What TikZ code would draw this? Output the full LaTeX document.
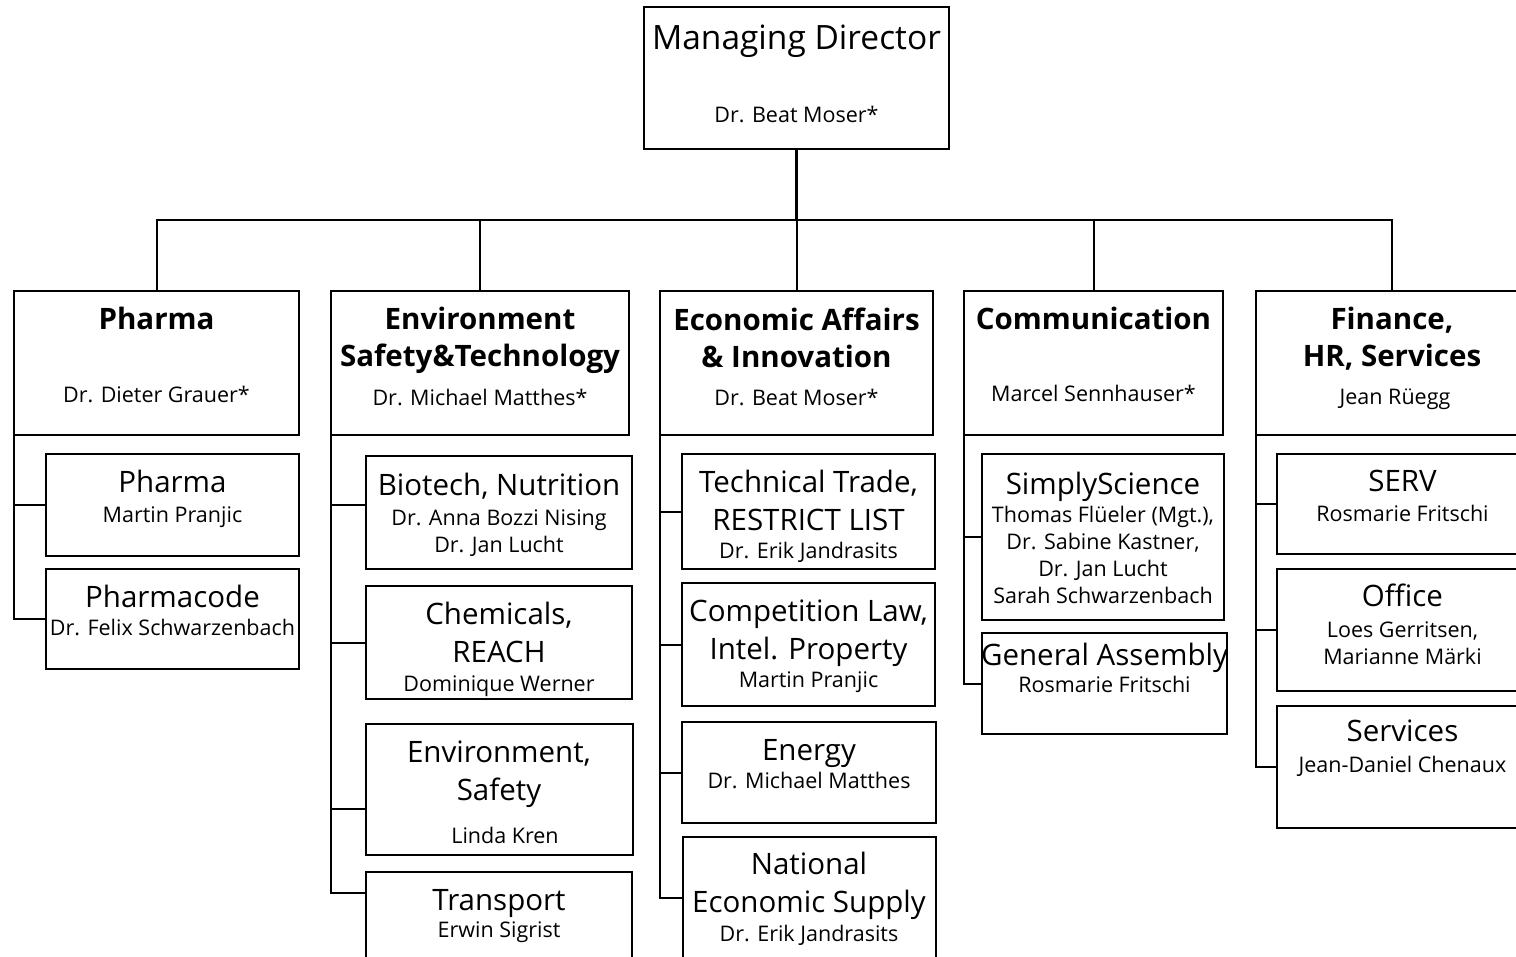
\documentclass[tikz,border=0pt]{standalone}
\usepackage{fontspec}
\setmainfont{Open Sans}
\usepackage{tikz}
\usetikzlibrary{positioning,calc}
\tikzset{
  orgbox/.style args={#1,#2}{
  rectangle,
  draw=black,
  line width=2pt,
  anchor=north west,
  inner sep=0pt,
  outer sep=0pt,
  minimum width=#1pt,
  minimum height=#2pt,
  },
  conn/.style={draw=black,line width=2pt},
  mdtext/.style={font=\fontsize{33.5}{40}\selectfont,anchor=base,inner sep=0pt},
  depttext/.style={font=\bfseries\fontsize{29.5}{37.5}\selectfont,align=center,anchor=base,inner sep=0pt},
  subtext/.style={font=\fontsize{29.5}{37.5}\selectfont,align=center,anchor=base,inner sep=0pt},
  persontext/.style={font=\fontsize{21.5}{27}\selectfont,align=center,anchor=base,inner sep=0pt}
}

\begin{document}
\begin{tikzpicture}[x=1pt,y=-1pt]
  \useasboundingbox (0,0) rectangle (1516,957);
  \clip (0,0) rectangle (1516,957);

  % managing director
  \node [orgbox={305,142}] (md) at (644,7) {};
  \node [mdtext] (mdT) at (796.5,50) {Managing Director};
  \node [persontext] (mdN) at (796.5,123) {Dr. Beat Moser*};

  % departments (multi-line texts sit on their last baseline)
  \node [orgbox={285,144}] (pharma) at (14,291) {};
  \node [depttext] (pharmaT) at (156.5,330) {Pharma};
  \node [persontext] (pharmaN) at (156.5,403) {Dr. Dieter Grauer*};

  \node [orgbox={298,144}] (env) at (331,291) {};
  \node [depttext] (envT) at (480,367) {Environment\\Safety\&Technology};
  \node [persontext] (envN) at (480,406) {Dr. Michael Matthes*};

  \node [orgbox={273,144}] (econ) at (660,291) {};
  \node [depttext] (econT) at (796.5,368) {Economic Affairs\\\& Innovation};
  \node [persontext] (econN) at (796.5,406) {Dr. Beat Moser*};

  \node [orgbox={259,144}] (comm) at (964,291) {};
  \node [depttext] (commT) at (1093.5,330) {Communication};
  \node [persontext] (commN) at (1093.5,402) {Marcel Sennhauser*};

  \node [orgbox={272,144}] (fin) at (1256,291) {};
  \node [depttext] (finT) at (1392,367) {Finance,\\HR, Services};
  \node [persontext] (finN) at (1395,405) {Jean Rüegg};

  % pharma units
  \node [orgbox={253,102}] (phPh) at (46,454) {};
  \node [subtext] (phPhT) at (172.5,493) {Pharma};
  \node [persontext] (phPhN) at (172.5,522) {Martin Pranjic};

  \node [orgbox={253,100}] (phCode) at (46,569) {};
  \node [subtext] (phCodeT) at (172.5,607) {Pharmacode};
  \node [persontext] (phCodeN) at (172.5,635) {Dr. Felix Schwarzenbach};

  % environment units
  \node [orgbox={266,113}] (bio) at (366,456) {};
  \node [subtext] (bioT) at (499,495) {Biotech, Nutrition};
  \node [persontext] (bioN) at (499,552) {Dr. Anna Bozzi Nising\\Dr. Jan Lucht};

  \node [orgbox={266,113}] (chem) at (366,586) {};
  \node [subtext] (chemT) at (499,662) {Chemicals,\\REACH};
  \node [persontext] (chemN) at (499,691) {Dominique Werner};

  \node [orgbox={267,131}] (envsaf) at (366,724) {};
  \node [subtext] (envsafT) at (499,800) {Environment,\\Safety};
  \node [persontext] (envsafN) at (505,843) {Linda Kren};

  \node [orgbox={266,118}] (transp) at (366,872) {};
  \node [subtext] (transpT) at (499,910) {Transport};
  \node [persontext] (transpN) at (499,937) {Erwin Sigrist};

  % economic units
  \node [orgbox={253,115}] (trade) at (682,454) {};
  \node [subtext] (tradeT) at (808.5,530) {Technical Trade,\\RESTRICT LIST};
  \node [persontext] (tradeN) at (808.5,558) {Dr. Erik Jandrasits};

  \node [orgbox={253,123}] (compet) at (682,583) {};
  \node [subtext] (competT) at (808.5,659) {Competition Law,\\Intel. Property};
  \node [persontext] (competN) at (808.5,687) {Martin Pranjic};

  \node [orgbox={254,101}] (energy) at (682,722) {};
  \node [subtext] (energyT) at (809,760) {Energy};
  \node [persontext] (energyN) at (809,788) {Dr. Michael Matthes};

  \node [orgbox={253,153}] (supply) at (683,837) {};
  \node [subtext] (supplyT) at (809,912) {National\\Economic Supply};
  \node [persontext] (supplyN) at (809,941) {Dr. Erik Jandrasits};

  % communication units
  \node [orgbox={242,166}] (simply) at (982,454) {};
  \node [subtext] (simplyT) at (1103,494) {SimplyScience};
  \node [persontext] (simplyN) at (1103,603) {Thomas Flüeler (Mgt.),\\Dr. Sabine Kastner,\\Dr. Jan Lucht\\Sarah Schwarzenbach};

  \node [orgbox={245,101}] (assembly) at (982,633) {};
  \node [subtext] (assemblyT) at (1104.5,665) {General Assembly};
  \node [persontext] (assemblyN) at (1104.5,692) {Rosmarie Fritschi};

  % finance units
  \node [orgbox={251,100}] (serv) at (1277,454) {};
  \node [subtext] (servT) at (1402.5,491) {SERV};
  \node [persontext] (servN) at (1402.5,521) {Rosmarie Fritschi};

  \node [orgbox={251,122}] (office) at (1277,569) {};
  \node [subtext] (officeT) at (1402.5,606) {Office};
  \node [persontext] (officeN) at (1402.5,664) {Loes Gerritsen,\\Marianne Märki};

  \node [orgbox={251,122}] (services) at (1277,706) {};
  \node [subtext] (servicesT) at (1402.5,741) {Services};
  \node [persontext] (servicesN) at (1402.5,772) {Jean-Daniel Chenaux};

  % top bar
  \coordinate (bar) at (796.5,220);
  \draw [conn,line width=3pt] (md.south) -- (bar);
  \draw [conn] (pharma.north) |- (bar) -| (fin.north);
  \draw [conn] (env.north) -- (env.north |- bar);
  \draw [conn] (comm.north) -- (comm.north |- bar);
  \draw [conn] (bar) -- (econ.north);

  % branches
  \draw [conn] (pharma.south west) |- (phPh.west)
               (pharma.south west) |- (phCode.west);
  \draw [conn] (env.south west) |- ([yshift=7.5pt]bio.west)
               (env.south west) |- (chem.west)
               (env.south west) |- ([yshift=-19.5pt]envsaf.west)
               (env.south west) |- ([yshift=38pt]transp.west);
  \draw [conn] (econ.south west) |- (trade.west)
               (econ.south west) |- (compet.west)
               (econ.south west) |- (energy.west)
               (econ.south west) |- ([yshift=15.5pt]supply.west);
  \draw [conn] (comm.south west) |- (simply.west)
               (comm.south west) |- (assembly.west);
  \draw [conn] (fin.south west) |- (serv.west)
               (fin.south west) |- (office.west)
               (fin.south west) |- (services.west);
\end{tikzpicture}
\end{document}
